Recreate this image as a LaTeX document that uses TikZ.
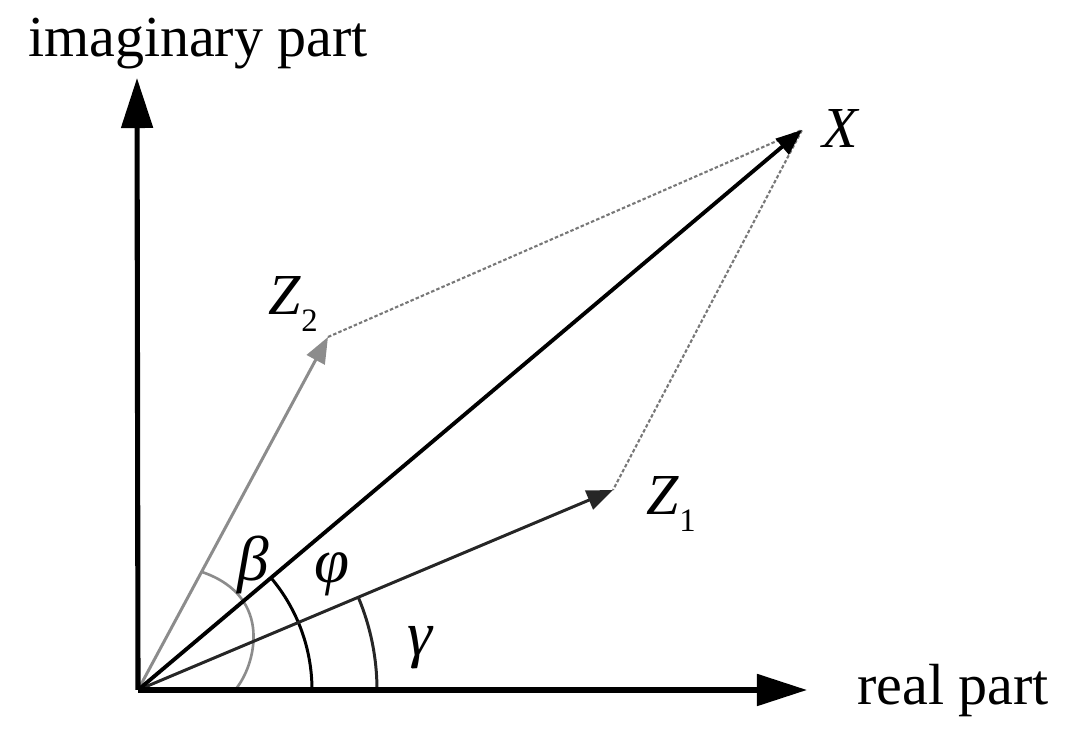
\documentclass[tikz,border=0pt]{standalone}
\usepackage{fontspec}
\setmainfont{Liberation Serif}
\usetikzlibrary{arrows.meta, positioning}
\definecolor{vecgray}{RGB}{140, 140, 140}
\definecolor{dotgray}{RGB}{120, 120, 120}
\newcommand{\zsub}[1]{\textit{Z}\raisebox{-4.8pt}{\fontsize{9.3}{10}\selectfont #1}}

\begin{document}
\begin{tikzpicture}[x=0.01cm, y=0.01cm,
  axis/.style={line width=1.45pt, -{Triangle[length=0.5cm, width=0.31cm]}},
  vec/.style={-{Triangle[length=0.26cm, width=0.2cm]}},
  lbl/.style={inner sep=0pt, font=\fontsize{16.5}{20}\selectfont},
  greek/.style={inner sep=0pt, font=\fontsize{18}{20}\selectfont\itshape}]
  \useasboundingbox (0,0) rectangle (1067,737);

  % Points
  \coordinate (O) at (138,47);
  \coordinate (re) at (807,47);
  \coordinate (im) at (137,659);
  \coordinate (X) at (802,607);
  \coordinate (Z1) at (613,247);
  \coordinate (Z2) at (328,400);

  % Parallelogram
  \draw[dotgray, line width=0.6pt, dash pattern=on 1pt off 0.6pt] (Z2) -- (X) -- (Z1);

  % Angles
  \draw[line width=0.85pt] (O) ++(0:174) arc[start angle=0, end angle=40.1, radius=174];
  \draw[line width=0.85pt, black!85] (O) ++(0:239) arc[start angle=0, end angle=22.8, radius=239];
  \draw[line width=0.75pt, vecgray] (O) ++(0:97) .. controls (255,70) and (275,140) .. (202,165);

  % Vectors
  \draw[vec, line width=0.85pt, vecgray] (O) -- (Z2);
  \draw[vec, line width=0.85pt, black!85] (O) -- (Z1);
  \draw[vec, line width=1.1pt] (O) -- (X);

  % Axes
  \draw[axis] (O) -- (re);
  \draw[axis] (O) -- (im);

  % Labels
  \node[lbl, anchor=base] (imlbl) at (198,680) {imaginary part};
  \node[lbl, anchor=base] (relbl) at (953,32) {real part};
  \node[lbl, anchor=base west] (Xlbl) at (822,589) {\textit{X}};
  \node[lbl, anchor=base west] (Z2lbl) at (268,422) {\zsub{2}};
  \node[lbl, anchor=base west] (Z1lbl) at (646,222) {\zsub{1}};
  \node[greek] (beta) at (253,172) {β};
  \node[greek] (phi) at (332,163) {φ};
  \node[greek] (gamma) at (420,89) {γ};
\end{tikzpicture}
\end{document}
